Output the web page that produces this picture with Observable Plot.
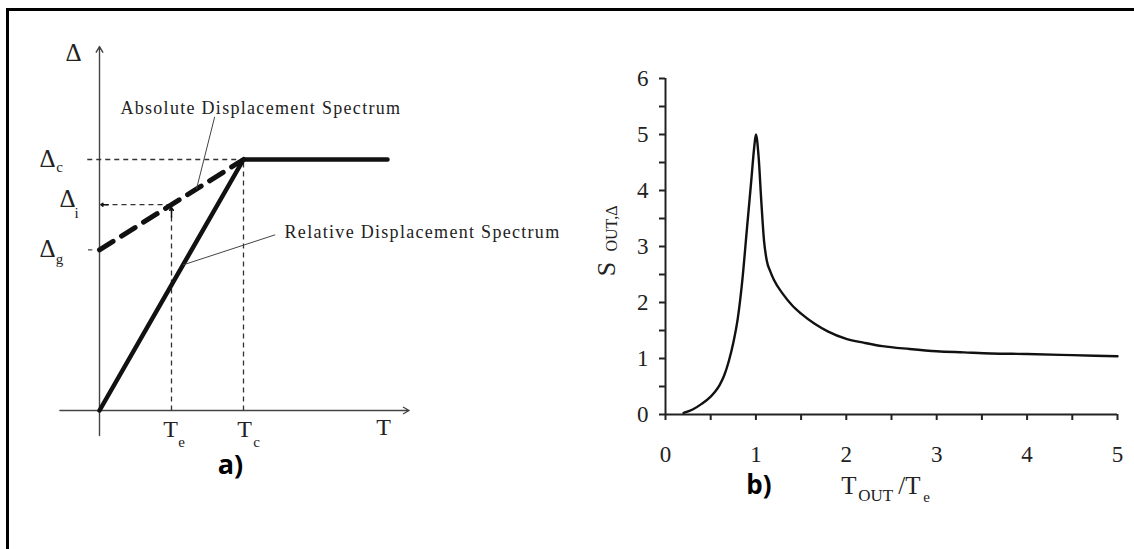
<!DOCTYPE html>
<html>
<head>
<meta charset="utf-8">
<script src="https://cdn.jsdelivr.net/npm/d3@7"></script>
<script src="https://cdn.jsdelivr.net/npm/@observablehq/plot@0.6"></script>
<style>
  html, body { margin: 0; padding: 0; background: #fff; }
  #wrap { position: relative; width: 1134px; height: 549px; background: #fff; overflow: hidden; }
  #frame { position: absolute; left: 6px; top: 8px; width: 1300px; height: 700px; border-left: 3px solid #000; border-top: 3px solid #000; }
  #panelA { position: absolute; left: 0; top: 0; }
  #panelB { position: absolute; left: 570px; top: 0; }
  svg { overflow: visible; }
</style>
</head>
<body>
<div id="wrap">
  <div id="frame"></div>
  <div id="panelA"></div>
  <div id="panelB"></div>
</div>
<script>
// ---------- Panel a) schematic spectra (normalised units) ----------
const periods = { Te: 1, Tc: 2, Tend: 4 };          // T axis positions
const displ   = { Dg: 0.64, Di: 0.82, Dc: 1 };      // Δ axis positions
const relativeT = [0, periods.Tc, periods.Tend];
const relativeD = [0, displ.Dc, displ.Dc];
const absoluteT = [0, periods.Tc];
const absoluteD = [displ.Dg, displ.Dc];
const labelAbsolute = "Absolute Displacement Spectrum";
const labelRelative = "Relative Displacement Spectrum";

// ---------- Panel b) S_OUT,Δ vs T_OUT/Te ----------
const ratio = [0.2, 0.3, 0.4, 0.5, 0.55, 0.6, 0.65, 0.7, 0.75, 0.8, 0.85, 0.9, 0.95, 0.98, 1.0, 1.03, 1.06, 1.09, 1.12, 1.16, 1.2, 1.3, 1.4, 1.5, 1.65, 1.8, 2.0, 2.2, 2.4, 2.7, 3.0, 3.3, 3.6, 4.0, 4.5, 5.0];
const sOut  = [0.03, 0.09, 0.19, 0.32, 0.41, 0.53, 0.7, 0.95, 1.28, 1.72, 2.4, 3.3, 4.2, 4.75, 5.0, 4.6, 3.8, 3.1, 2.75, 2.55, 2.4, 2.15, 1.95, 1.8, 1.62, 1.48, 1.35, 1.28, 1.22, 1.17, 1.13, 1.11, 1.09, 1.08, 1.06, 1.04];
const xTicks = [0, 0.5, 1, 1.5, 2, 2.5, 3, 3.5, 4, 4.5, 5];
const yTicks = [0, 0.5, 1, 1.5, 2, 2.5, 3, 3.5, 4, 4.5, 5, 5.5, 6];

const serif = "'Liberation Serif', 'DejaVu Serif', serif";
const bold = "'Open Sans', 'Noto Sans', sans-serif";

const relData = relativeT.map((t, i) => ({T: t, D: relativeD[i]}));
const absData = absoluteT.map((t, i) => ({T: t, D: absoluteD[i]}));
const absAt = t => displ.Dg + (displ.Dc - displ.Dg) * t / periods.Tc;
const relAt = t => displ.Dc * t / periods.Tc;

const thin = {stroke: "#333", strokeWidth: 1.3, strokeDasharray: "5,4"};
const one = [0];

const plotA = Plot.plot({
  width: 560, height: 549,
  margin: 0,
  x: {domain: [0, 4], range: [99, 387], axis: null},
  y: {domain: [0, 1], range: [410, 159], axis: null},
  style: {background: "transparent", fontFamily: serif, overflow: "visible"},
  marks: [
    // axes
    Plot.arrow(one, {x1: -0.55, y1: 0, x2: 4.3, y2: 0, stroke: "#444", strokeWidth: 1.4, headLength: 7}),
    Plot.arrow(one, {x1: 0, y1: -0.1, x2: 0, y2: 1.45, stroke: "#444", strokeWidth: 1.4, headLength: 7}),
    // thin dashed guides
    Plot.link(one, {x1: -0.17, y1: displ.Dc, x2: periods.Tc, y2: displ.Dc, ...thin}),
    Plot.link(one, {x1: periods.Tc, y1: 0, x2: periods.Tc, y2: displ.Dc, ...thin}),
    Plot.link(one, {x1: periods.Te, y1: 0, x2: periods.Te, y2: displ.Di - 0.01, ...thin}),
    Plot.link(one, {x1: periods.Te, y1: displ.Di, x2: 0.08, y2: displ.Di, ...thin}),
    Plot.arrow(one, {x1: 0.12, y1: displ.Di, x2: 0.02, y2: displ.Di, stroke: "#111", strokeWidth: 1.6, headLength: 9, headAngle: 70}),
    Plot.arrow(one, {x1: periods.Te, y1: displ.Di - 0.05, x2: periods.Te, y2: displ.Di - 0.012, stroke: "#111", strokeWidth: 1.5, headLength: 8, headAngle: 70}),
    Plot.link(one, {x1: -0.16, y1: displ.Dg, x2: -0.1, y2: displ.Dg, stroke: "#444", strokeWidth: 1.2}),
    // spectra
    Plot.line(absData, {x: "T", y: "D", stroke: "#111", strokeWidth: 5, strokeDasharray: "16,10"}),
    Plot.line(relData, {x: "T", y: "D", stroke: "#111", strokeWidth: 4.5, strokeLinejoin: "miter"}),
    // leaders
    Plot.link(one, {x1: 1.6, y1: 1.17, x2: 1.347, y2: absAt(1.347), stroke: "#444", strokeWidth: 1}),
    Plot.link(one, {x1: 2.44, y1: 0.70, x2: 1.16, y2: relAt(1.16), stroke: "#444", strokeWidth: 1}),
    // annotation texts
    Plot.text([labelAbsolute], {x: 0.29, y: 1.203, text: d => d, textAnchor: "start", fontSize: 18, fill: "#222"}),
    Plot.text([labelRelative], {x: 2.57, y: 0.711, text: d => d, textAnchor: "start", fontSize: 18, fill: "#222"}),
    // axis symbols
    Plot.text(["Δ"], {x: 0, y: 1.45, text: d => d, dx: -26, dy: 6, fontSize: 25, fill: "#222"}),
    Plot.text(["Δ"], {x: 0, y: displ.Dc, text: d => d, dx: -52, dy: -1, fontSize: 25, fill: "#222"}),
    Plot.text(["c"], {x: 0, y: displ.Dc, text: d => d, dx: -40, dy: 8, fontSize: 15, fill: "#222"}),
    Plot.text(["Δ"], {x: 0, y: displ.Di, text: d => d, dx: -32, dy: -6, fontSize: 25, fill: "#222"}),
    Plot.text(["i"], {x: 0, y: displ.Di, text: d => d, dx: -23, dy: 9, fontSize: 15, fill: "#222"}),
    Plot.text(["Δ"], {x: 0, y: displ.Dg, text: d => d, dx: -52, dy: -1, fontSize: 25, fill: "#222"}),
    Plot.text(["g"], {x: 0, y: displ.Dg, text: d => d, dx: -40, dy: 9, fontSize: 15, fill: "#222"}),
    Plot.text(["T"], {x: periods.Te, y: 0, text: d => d, dx: -1, dy: 19, fontSize: 24, fill: "#222"}),
    Plot.text(["e"], {x: periods.Te, y: 0, text: d => d, dx: 10, dy: 32, fontSize: 15, fill: "#222"}),
    Plot.text(["T"], {x: periods.Tc, y: 0, text: d => d, dx: 1, dy: 19, fontSize: 24, fill: "#222"}),
    Plot.text(["c"], {x: periods.Tc, y: 0, text: d => d, dx: 13, dy: 32, fontSize: 15, fill: "#222"}),
    Plot.text(["T"], {x: periods.Tend, y: 0, text: d => d, dx: -4, dy: 17, fontSize: 24, fill: "#222"}),
    Plot.text(["a)"], {x: periods.Tc, y: 0, text: d => d, dx: -13, dy: 55, fontSize: 27, fontWeight: "bold", fontFamily: bold, fill: "#000"})
  ]
});
document.getElementById("panelA").appendChild(plotA);
d3.select(plotA).selectAll("text").filter(function() {
  const t = this.textContent; return t === labelAbsolute || t === labelRelative;
}).attr("letter-spacing", "1.3px");

const curve = ratio.map((r, i) => ({r, s: sOut[i]}));
const plotB = Plot.plot({
  width: 564, height: 549,
  marginLeft: 95, marginRight: 17, marginTop: 78, marginBottom: 135,
  x: {domain: [0, 5]},
  y: {domain: [0, 6]},
  style: {background: "transparent", fontFamily: serif, overflow: "visible", color: "#222"},
  marks: [
    Plot.axisX({ticks: xTicks, tickSize: 6, tickPadding: 25, strokeWidth: 2, tickFormat: d => Number.isInteger(d) ? d : "", fontSize: 23, label: null}),
    Plot.axisY({ticks: yTicks, tickSize: 6, tickPadding: 11, strokeWidth: 2, tickFormat: d => Number.isInteger(d) ? d : "", fontSize: 23, label: null}),
    Plot.ruleY([0], {stroke: "#222", strokeWidth: 2}),
    Plot.ruleX([0], {stroke: "#222", strokeWidth: 2}),
    Plot.line(curve, {x: "r", y: "s", curve: "monotone-x", stroke: "#111", strokeWidth: 2.4}),
    // axis titles
    Plot.text(["S"], {x: 0, y: 2.6, text: d => d, dx: -59, rotate: -90, fontSize: 26, fill: "#222"}),
    Plot.text(["OUT,Δ"], {x: 0, y: 3.32, text: d => d, dx: -54, rotate: -90, fontSize: 16, fill: "#222"}),
    Plot.text(["T"], {x: 2, y: 0, text: d => d, dx: -5, dy: 71, textAnchor: "start", fontSize: 25, fill: "#222"}),
    Plot.text(["OUT"], {x: 2, y: 0, text: d => d, dx: 12, dy: 81, textAnchor: "start", fontSize: 17, fill: "#222"}),
    Plot.text(["/T"], {x: 2, y: 0, text: d => d, dx: 52, dy: 71, textAnchor: "start", fontSize: 25, fill: "#222"}),
    Plot.text(["e"], {x: 2, y: 0, text: d => d, dx: 77, dy: 83, textAnchor: "start", fontSize: 15, fill: "#222"}),
    Plot.text(["b)"], {x: 1, y: 0, text: d => d, dx: 3, dy: 71, fontSize: 26, fontWeight: "bold", fontFamily: bold, fill: "#000"})
  ]
});
document.getElementById("panelB").appendChild(plotB);
</script>
</body>
</html>
